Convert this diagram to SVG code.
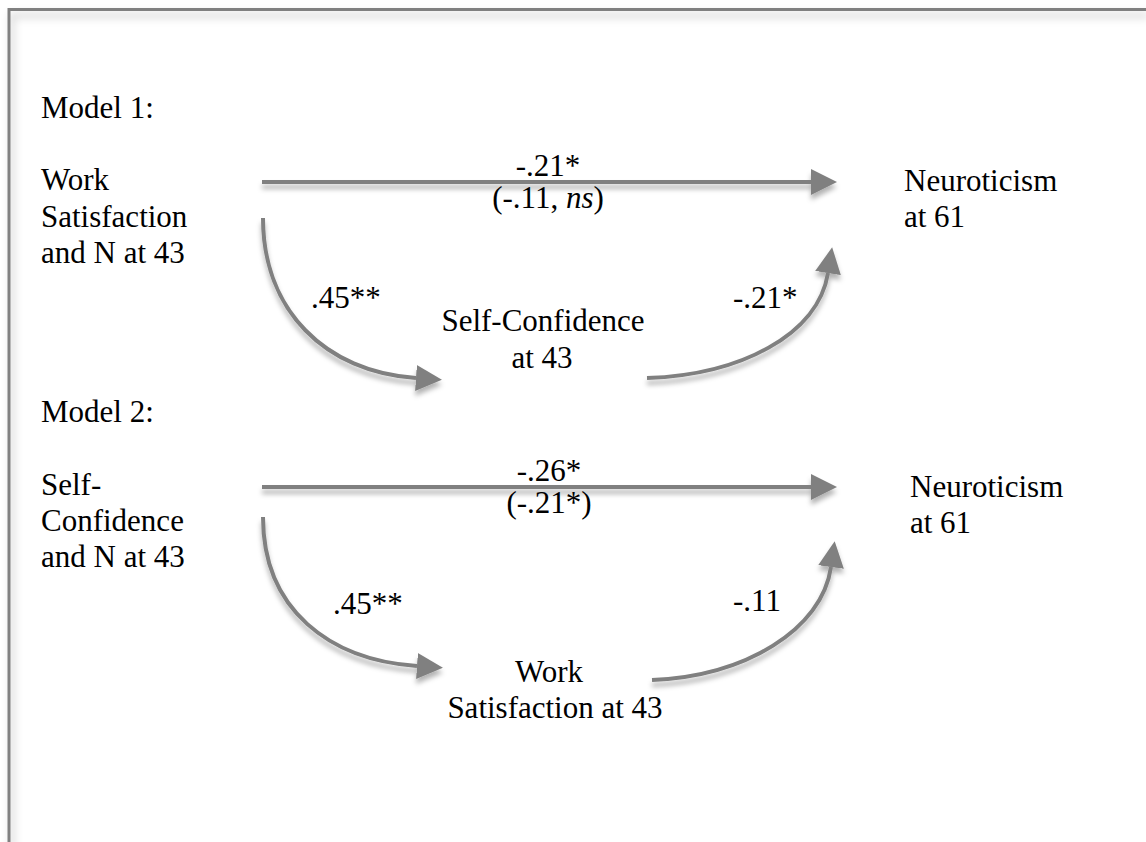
<svg xmlns="http://www.w3.org/2000/svg" width="1146" height="842" viewBox="0 0 1146 842">
<style>
text{font-family:'Liberation Serif','Times New Roman',serif;font-size:31px;fill:#000}
.c{text-anchor:middle}
.conn{fill:none;stroke:#808080;stroke-width:4}
</style>
<defs>
<filter id="sh" x="-10%" y="-10%" width="120%" height="140%">
<feDropShadow dx="0" dy="5" stdDeviation="2.5" flood-color="#000" flood-opacity="0.3"/>
</filter>
<filter id="fsh" x="-5%" y="-5%" width="110%" height="110%">
<feDropShadow dx="3" dy="6" stdDeviation="4" flood-color="#000" flood-opacity="0.25"/>
</filter>
<marker id="ah" markerUnits="userSpaceOnUse" markerWidth="26" markerHeight="26" refX="0" refY="13" orient="auto">
<path d="M0,0 L26,13 L0,26 z" fill="#808080"/>
</marker>
</defs>
<rect width="1146" height="842" fill="#fff"/>
<path d="M9,842 V9.5 H1146" fill="none" stroke="#808080" stroke-width="3" filter="url(#fsh)"/>

<g id="connectors" filter="url(#sh)">
<path class="conn" d="M262,182 H811" marker-end="url(#ah)"/>
<path class="conn" d="M263,218 C263,310 325,372 416,378" marker-end="url(#ah)"/>
<path class="conn" d="M647,378 C740,375 818,335 828,273" marker-end="url(#ah)"/>
<path class="conn" d="M262,487 H811" marker-end="url(#ah)"/>
<path class="conn" d="M263,517 C263,610 330,660 417,666" marker-end="url(#ah)"/>
<path class="conn" d="M652,680 C745,676 822,630 831,567" marker-end="url(#ah)"/>
</g>

<g id="model1-title"><text x="41" y="118">Model 1:</text></g>
<g id="m1-work-satisfaction"><text x="41" y="190">Work</text><text x="41" y="227">Satisfaction</text><text x="41" y="263">and N at 43</text></g>
<g id="m1-neuroticism"><text x="904" y="191">Neuroticism</text><text x="904" y="227">at 61</text></g>
<g id="m1-self-confidence"><text class="c" x="543" y="331">Self-Confidence</text><text class="c" x="542" y="368">at 43</text></g>
<g id="m1-labels">
<text class="c" x="548" y="176">-.21*</text>
<text class="c" x="548" y="208">(-.11, <tspan font-style="italic">ns</tspan>)</text>
<text x="311" y="308">.45**</text>
<text x="733" y="308">-.21*</text>
</g>

<g id="model2-title"><text x="41" y="422">Model 2:</text></g>
<g id="m2-self-confidence"><text x="41" y="495">Self-</text><text x="41" y="531">Confidence</text><text x="41" y="567">and N at 43</text></g>
<g id="m2-neuroticism"><text x="910" y="497">Neuroticism</text><text x="910" y="533">at 61</text></g>
<g id="m2-work-satisfaction"><text class="c" x="549" y="682">Work</text><text class="c" x="555" y="718">Satisfaction at 43</text></g>
<g id="m2-labels">
<text class="c" x="549" y="481">-.26*</text>
<text class="c" x="549" y="513">(-.21*)</text>
<text x="333" y="614">.45**</text>
<text x="733" y="611">-.11</text>
</g>
</svg>
